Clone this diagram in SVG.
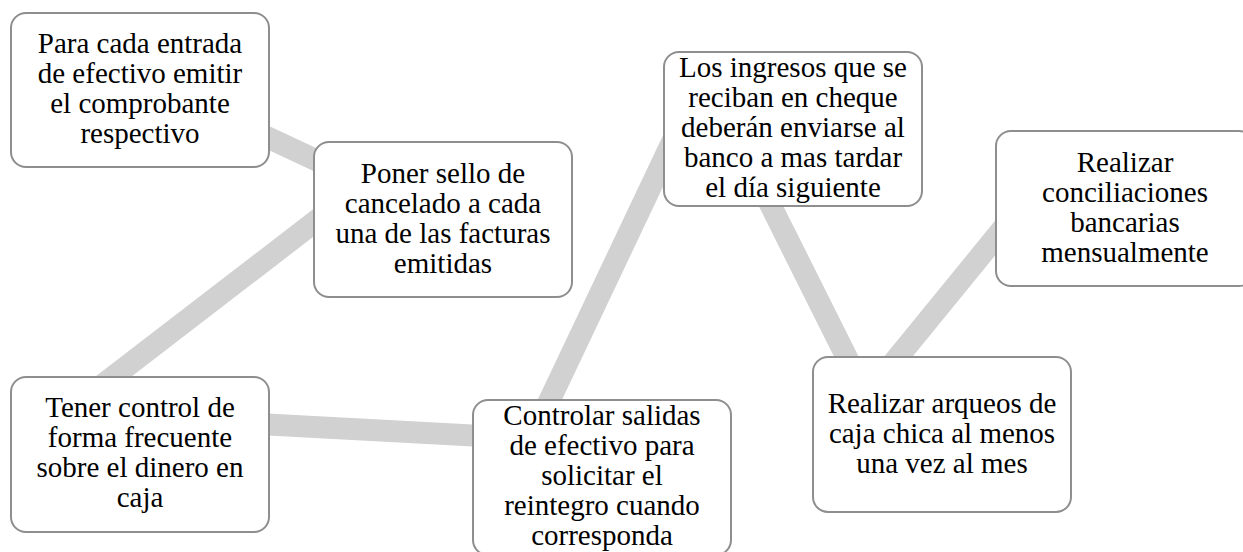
<svg xmlns="http://www.w3.org/2000/svg" width="1243" height="552" viewBox="0 0 1243 552">
<style>
.box{fill:#ffffff;stroke:#8e8e8e;stroke-width:2}
.lbl{font-family:"Liberation Serif","Times New Roman",serif;font-size:29px;fill:#000;text-anchor:middle}
.con{stroke:#d1d1d1;stroke-width:22;fill:none}
</style>
<rect width="1243" height="552" fill="#ffffff"/>
<g id="connectors">
<line class="con" x1="200" y1="106" x2="380" y2="190"/>
<line class="con" x1="360" y1="187" x2="70" y2="410"/>
<line class="con" x1="200" y1="421" x2="540" y2="439"/>
<line class="con" x1="526" y1="450" x2="673" y2="140"/>
<line class="con" x1="750" y1="164" x2="870" y2="404"/>
<line class="con" x1="863" y1="400" x2="1040" y2="183"/>
</g>
<g id="n1">
<rect class="box" x="11" y="13" width="258" height="154" rx="15"/>
<text class="lbl"><tspan x="140" y="53">Para cada entrada</tspan><tspan x="140" y="83">de efectivo emitir</tspan><tspan x="140" y="113">el comprobante</tspan><tspan x="140" y="143">respectivo</tspan></text>
</g>
<g id="n2">
<rect class="box" x="314" y="142" width="258" height="155" rx="15"/>
<text class="lbl"><tspan x="443" y="183">Poner sello de</tspan><tspan x="443" y="213">cancelado a cada</tspan><tspan x="443" y="243">una de las facturas</tspan><tspan x="443" y="273">emitidas</tspan></text>
</g>
<g id="n3">
<rect class="box" x="11" y="377" width="258" height="155" rx="15"/>
<text class="lbl"><tspan x="140" y="417">Tener control de</tspan><tspan x="140" y="447">forma frecuente</tspan><tspan x="140" y="477">sobre el dinero en</tspan><tspan x="140" y="507">caja</tspan></text>
</g>
<g id="n4">
<rect class="box" x="473" y="400" width="258" height="155" rx="15"/>
<text class="lbl"><tspan x="602" y="425">Controlar salidas</tspan><tspan x="602" y="455">de efectivo para</tspan><tspan x="602" y="485">solicitar el</tspan><tspan x="602" y="515">reintegro cuando</tspan><tspan x="602" y="545">corresponda</tspan></text>
</g>
<g id="n5">
<rect class="box" x="664" y="52" width="258" height="154" rx="15"/>
<text class="lbl"><tspan x="793" y="77">Los ingresos que se</tspan><tspan x="793" y="107">reciban en cheque</tspan><tspan x="793" y="137">deberán enviarse al</tspan><tspan x="793" y="167">banco a mas tardar</tspan><tspan x="793" y="197">el día siguiente</tspan></text>
</g>
<g id="n6">
<rect class="box" x="996" y="131" width="258" height="155" rx="15"/>
<text class="lbl"><tspan x="1125" y="172">Realizar</tspan><tspan x="1125" y="202">conciliaciones</tspan><tspan x="1125" y="232">bancarias</tspan><tspan x="1125" y="262">mensualmente</tspan></text>
</g>
<g id="n7">
<rect class="box" x="813" y="357" width="258" height="155" rx="15"/>
<text class="lbl"><tspan x="942" y="413">Realizar arqueos de</tspan><tspan x="942" y="443">caja chica al menos</tspan><tspan x="942" y="473">una vez al mes</tspan></text>
</g>
</svg>
